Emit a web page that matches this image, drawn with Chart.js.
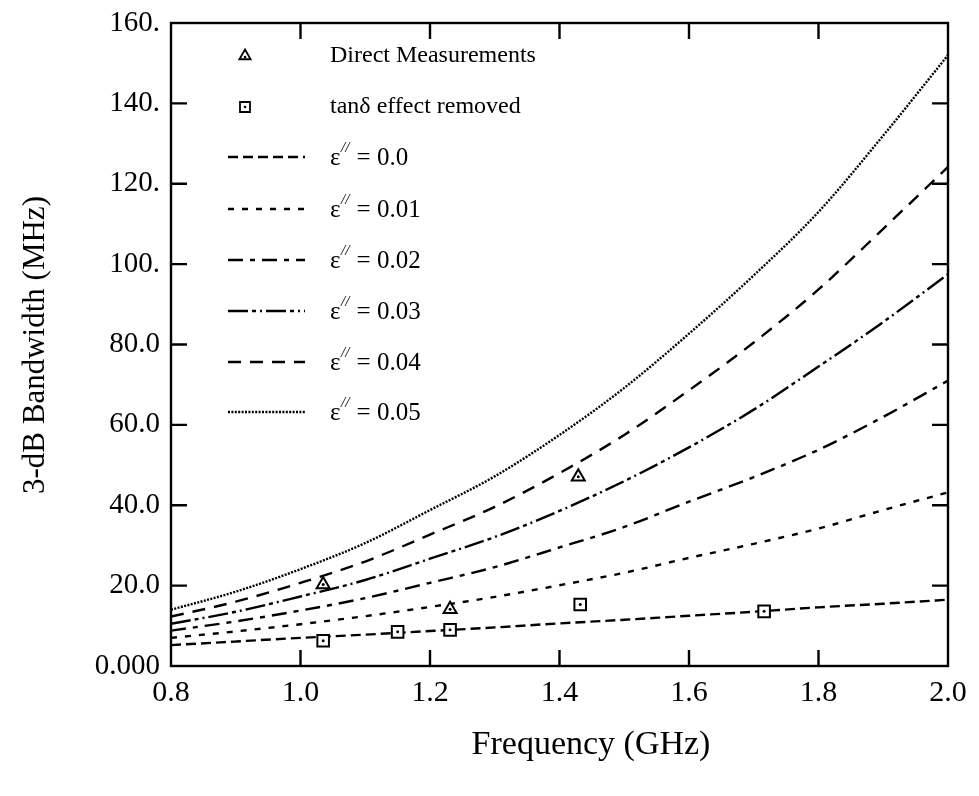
<!DOCTYPE html>
<html>
<head>
<meta charset="utf-8">
<script src="https://cdn.jsdelivr.net/npm/chart.js@4"></script>
<style>
  html, body { margin: 0; padding: 0; background: #fff; }
  #wrap { width: 979px; height: 796px; position: relative; }
</style>
</head>
<body>
<div id="wrap"><canvas id="c" width="979" height="796"></canvas></div>
<script>
// ---------------- data ----------------
const freqs = [0.8, 0.9, 1.0, 1.1, 1.2, 1.3, 1.4, 1.5, 1.6, 1.7, 1.8, 1.9, 2.0];
const eps000 = [5.2, 6.1, 7.0, 7.8, 8.7, 9.6, 10.6, 11.5, 12.5, 13.5, 14.6, 15.5, 16.5];
const eps001 = [7.0, 8.6, 10.4, 12.4, 14.7, 17.2, 20.1, 23.2, 26.9, 30.4, 34.2, 38.8, 43.2];
const eps002 = [8.8, 11.1, 13.8, 16.9, 20.7, 24.6, 29.5, 34.6, 40.9, 47.0, 53.8, 62.0, 71.0];
const eps003 = [10.5, 13.5, 17.3, 21.4, 26.7, 32.1, 38.6, 46.0, 54.4, 63.8, 74.5, 85.6, 97.5];
const eps004 = [12.3, 16.0, 20.7, 26.0, 32.7, 39.6, 48.0, 57.5, 68.6, 80.5, 93.7, 108.8, 124.2];
const eps005 = [14.0, 18.5, 24.1, 30.6, 38.8, 47.2, 57.5, 69.2, 82.7, 97.2, 113.0, 132.0, 152.0];

const directF  = [1.035, 1.231, 1.429];
const directBW = [20.3, 14.1, 47.1];
const removedF  = [1.035, 1.150, 1.231, 1.432, 1.716];
const removedBW = [6.3, 8.5, 9.0, 15.3, 13.6];

const xTickLabels = ["0.8", "1.0", "1.2", "1.4", "1.6", "1.8", "2.0"];
const yTickLabels = ["0.000", "20.0", "40.0", "60.0", "80.0", "100.", "120.", "140.", "160."];

const seriesNames = ["0.0", "0.01", "0.02", "0.03", "0.04", "0.05"];
const legendTexts = ["Direct Measurements", "tan\u03b4 effect removed"];
const xTitle = "Frequency (GHz)";
const yTitle = "3-dB Bandwidth (MHz)";

// ---------------- build ----------------
const pts = (xs, ys) => xs.map((x, i) => ({ x: x, y: ys[i] }));
const curves = [eps000, eps001, eps002, eps003, eps004, eps005];
const dashes = [[10, 5], [6, 8], [15, 7, 5, 7], [20, 4, 4, 4, 2, 4], [13, 9], [2, 1.4]];
const widths = [2.4, 2.4, 2.4, 2.4, 2.4, 2.4];

const datasets = curves.map((arr, i) => ({
  label: "eps" + seriesNames[i],
  data: pts(freqs, arr),
  borderColor: "#000",
  borderWidth: widths[i],
  borderDash: dashes[i],
  pointRadius: 0,
  fill: false,
  cubicInterpolationMode: "monotone",
  showLine: true,
  order: 3
}));

datasets.push({
  label: legendTexts[0], type: "scatter", data: pts(directF, directBW),
  pointStyle: "triangle", pointRadius: 7.5, borderColor: "#000", backgroundColor: "#fff",
  borderWidth: 2, showLine: false, order: 2
});
datasets.push({
  label: legendTexts[1], type: "scatter", data: pts(removedF, removedBW),
  pointStyle: "rect", pointRadius: 8.2, borderColor: "#000", backgroundColor: "#fff",
  borderWidth: 2, showLine: false, order: 2
});
datasets.push({
  label: "dots", type: "scatter", data: pts(directF.concat(removedF), directBW.concat(removedBW)),
  pointStyle: "circle", pointRadius: 1.5, borderWidth: 0, backgroundColor: "#000", showLine: false,
  order: 1
});

const SERIF = "'Liberation Serif', 'DejaVu Serif', serif";

const framePlugin = {
  id: "frame",
  afterDraw(chart) {
    const ctx = chart.ctx;
    const a = chart.chartArea;
    const xs = chart.scales.x, ys = chart.scales.y;
    ctx.save();
    ctx.strokeStyle = "#000";
    ctx.lineWidth = 2.4;
    ctx.setLineDash([]);
    ctx.strokeRect(a.left, a.top, a.right - a.left, a.bottom - a.top);
    const tl = 16;
    ctx.beginPath();
    xs.ticks.forEach(t => {
      const px = xs.getPixelForValue(t.value);
      if (Math.abs(px - a.left) < 2 || Math.abs(px - a.right) < 2) return;
      ctx.moveTo(px, a.bottom); ctx.lineTo(px, a.bottom - tl);
      ctx.moveTo(px, a.top); ctx.lineTo(px, a.top + tl);
    });
    ys.ticks.forEach(t => {
      const py = ys.getPixelForValue(t.value);
      if (Math.abs(py - a.top) < 2 || Math.abs(py - a.bottom) < 2) return;
      ctx.moveTo(a.left, py); ctx.lineTo(a.left + tl, py);
      ctx.moveTo(a.right, py); ctx.lineTo(a.right - tl, py);
    });
    ctx.stroke();

    // axis titles
    ctx.fillStyle = "#000";
    ctx.textAlign = "center";
    ctx.textBaseline = "middle";
    ctx.font = "34px " + SERIF;
    ctx.fillText(xTitle, 591, 745);
    ctx.save();
    ctx.translate(36, 345);
    ctx.rotate(-Math.PI / 2);
    ctx.font = "31px " + SERIF;
    ctx.fillText(yTitle, 0, 0);
    ctx.restore();

    // legend
    const lx0 = 228, lx1 = 305, tx = 330;
    const rows = [56, 107, 157, 209, 260, 311, 362, 412];
    ctx.textAlign = "left";
    ctx.textBaseline = "middle";
    const mk = [chart.data.datasets[6], chart.data.datasets[7]];
    mk.forEach((ds, i) => {
      const y = rows[i];
      const cx = 245;
      ctx.fillStyle = "#fff";
      ctx.strokeStyle = "#000";
      ctx.lineWidth = 1.8;
      ctx.beginPath();
      if (ds.pointStyle === "triangle") {
        const r = 6.5;
        ctx.moveTo(cx, y - r);
        ctx.lineTo(cx + r * 0.866, y + r * 0.5);
        ctx.lineTo(cx - r * 0.866, y + r * 0.5);
        ctx.closePath();
      } else {
        ctx.rect(cx - 5, y - 5, 10, 10);
      }
      ctx.fill(); ctx.stroke();
      ctx.fillStyle = "#000";
      ctx.beginPath(); ctx.arc(cx, ds.pointStyle === "triangle" ? y + 1 : y, 1.3, 0, Math.PI * 2); ctx.fill();
      ctx.font = "24px " + SERIF;
      ctx.fillText(ds.label, tx, y);
    });
    for (let i = 0; i < 6; i++) {
      const ds = chart.data.datasets[i];
      const y = rows[i + 2];
      ctx.strokeStyle = "#000";
      ctx.lineWidth = ds.borderWidth;
      ctx.setLineDash(ds.borderDash);
      ctx.beginPath(); ctx.moveTo(lx0, y); ctx.lineTo(lx1, y); ctx.stroke();
      ctx.setLineDash([]);
      ctx.fillStyle = "#000";
      let x = tx;
      ctx.font = "25px " + SERIF;
      ctx.fillText("\u03b5", x, y + 1);
      x += ctx.measureText("\u03b5").width + 0.5;
      ctx.font = "italic 15px " + SERIF;
      ctx.fillText("//", x, y - 9);
      x += ctx.measureText("//").width + 1;
      ctx.font = "25px " + SERIF;
      ctx.fillText(" = " + seriesNames[i], x, y + 1);
    }
    ctx.restore();
  }
};

new Chart(document.getElementById("c"), {
  type: "line",
  data: { datasets: datasets },
  options: {
    responsive: false,
    animation: false,
    layout: { padding: { left: 0, top: 23, right: 31, bottom: 0 } },
    plugins: { legend: { display: false }, tooltip: { enabled: false } },
    elements: { line: { borderCapStyle: "butt" } },
    scales: {
      x: {
        type: "linear", min: 0.8, max: 2.0,
        grid: { display: false, drawTicks: false }, border: { display: false },
        ticks: {
          stepSize: 0.2, autoSkip: false, maxRotation: 0, padding: 9,
          color: "#000", font: { family: SERIF, size: 30 },
          callback: (v, i) => xTickLabels[i]
        },
        afterFit: s => { s.height = 130; s.paddingLeft = 0; s.paddingRight = 0; }
      },
      y: {
        type: "linear", min: 0, max: 160,
        grid: { display: false, drawTicks: false }, border: { display: false },
        ticks: {
          stepSize: 20, autoSkip: false, padding: 11,
          color: "#000", font: { family: SERIF, size: 29 },
          callback: (v, i) => yTickLabels[i]
        },
        afterFit: s => { s.width = 171; s.paddingTop = 0; s.paddingBottom = 0; }
      }
    }
  },
  plugins: [framePlugin]
});
</script>
</body>
</html>
